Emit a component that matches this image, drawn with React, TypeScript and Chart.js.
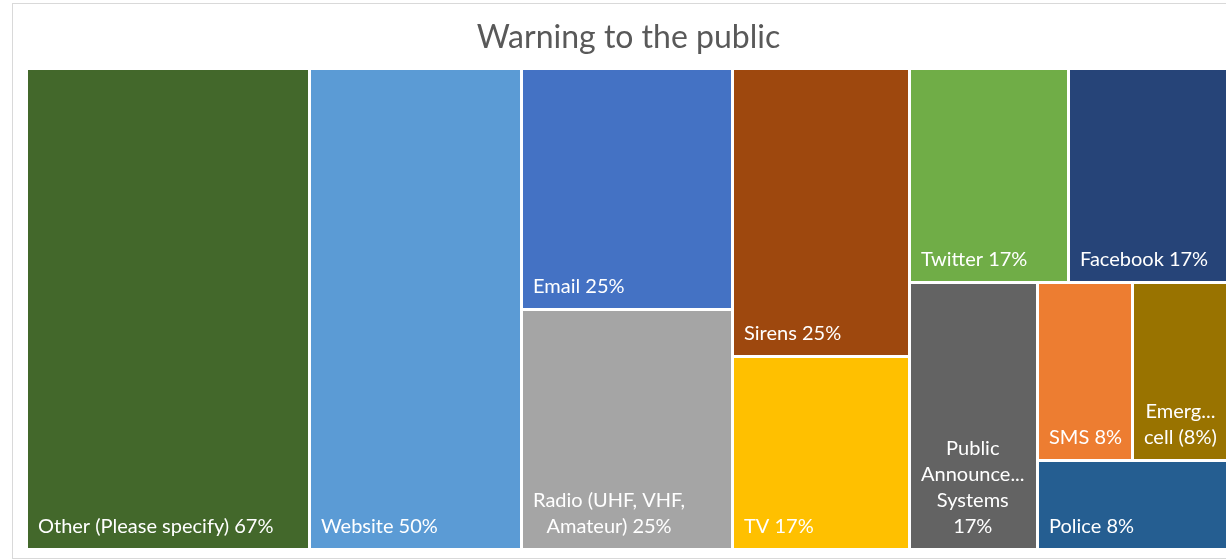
import React, { useEffect, useRef } from "react";
import { Chart, registerables } from "chart.js";

Chart.register(...registerables);

// ---- data ----
const chartTitle = "Warning to the public";
const categories = [
  "Other (Please specify)",
  "Website",
  "Email",
  "Radio (UHF, VHF, Amateur)",
  "Sirens",
  "TV",
  "Twitter",
  "Facebook",
  "Public Announcement Systems",
  "SMS",
  "Emergency cell",
  "Police",
];
const values = [66.7, 50, 25, 25, 25, 16.7, 16.7, 16.7, 16.7, 8.3, 8.3, 8.3];
const valueLabels = ["67%", "50%", "25%", "25%", "25%", "17%", "17%", "17%", "17%", "8%", "(8%)", "8%"];
const colors = [
  "#43682B",
  "#5B9BD5",
  "#4472C4",
  "#A5A5A5",
  "#9E480E",
  "#FFC000",
  "#70AD47",
  "#264478",
  "#636363",
  "#ED7D31",
  "#997300",
  "#255E91",
];
// number of items placed in each successive strip of the treemap
const stripSizes = [1, 1, 2, 2, 2, 1, 2, 1];

const CANVAS_W = 1245;
const CANVAS_H = 559;
const GAP = 3;
const LABEL_FONT = "20px Lato";
const LINE_H = 26;

type R = { x0: number; y0: number; x1: number; y1: number; idx: number };

function treemapLayout(aspect: number): R[] {
  const rects: R[] = [];
  let x = 0,
    y = 0,
    w = aspect,
    h = 1;
  let remaining = values.reduce((a, b) => a + b, 0);
  let i = 0;
  for (const n of stripSizes) {
    const items = values.slice(i, i + n);
    const s = items.reduce((a, b) => a + b, 0);
    if (w >= h) {
      const cw = (w * s) / remaining;
      let cy = y;
      items.forEach((v, k) => {
        const ch = (h * v) / s;
        rects.push({ x0: x, y0: cy, x1: x + cw, y1: cy + ch, idx: i + k });
        cy += ch;
      });
      x += cw;
      w -= cw;
    } else {
      const rh = (h * s) / remaining;
      let cx = x;
      items.forEach((v, k) => {
        const cw = (w * v) / s;
        rects.push({ x0: cx, y0: y, x1: cx + cw, y1: y + rh, idx: i + k });
        cx += cw;
      });
      y += rh;
      h -= rh;
    }
    remaining -= s;
    i += n;
  }
  return rects;
}

function wrapLabel(ctx: CanvasRenderingContext2D, text: string, avail: number): string[] {
  const words = text.split(" ");
  const lines: string[] = [];
  let cur = "";
  const fit = (word: string) => {
    if (ctx.measureText(word).width <= avail) return word;
    let p = word;
    while (p.length > 1 && ctx.measureText(p + "...").width > avail) p = p.slice(0, -1);
    return p + "...";
  };
  for (const word of words) {
    const cand = cur ? cur + " " + word : word;
    if (ctx.measureText(cand).width <= avail) {
      cur = cand;
    } else {
      if (cur) lines.push(cur);
      const f = fit(word);
      if (f !== word) {
        lines.push(f);
        cur = "";
      } else cur = word;
    }
  }
  if (cur) lines.push(cur);
  return lines;
}

const treemapPlugin = {
  id: "treemapCells",
  beforeDraw(chart: any) {
    const ctx = chart.ctx as CanvasRenderingContext2D;
    ctx.save();
    ctx.strokeStyle = "#D9D9D9";
    ctx.lineWidth = 1;
    ctx.strokeRect(12.5, 3.5, 1300, 555);
    ctx.restore();
  },
  afterDatasetsDraw(chart: any) {
    const ctx = chart.ctx as CanvasRenderingContext2D;
    const area = chart.chartArea;
    const aspect = (area.right - area.left) / (area.bottom - area.top);
    const xs = chart.scales.x;
    const ys = chart.scales.y;
    const rects = treemapLayout(aspect);
    ctx.save();
    for (const r of rects) {
      const px0 = xs.getPixelForValue(r.x0 / aspect);
      const px1 = xs.getPixelForValue(r.x1 / aspect);
      const py0 = ys.getPixelForValue(r.y0);
      const py1 = ys.getPixelForValue(r.y1);
      const left = Math.round(px0);
      const top = Math.round(py0);
      const right = Math.round(px1) - GAP;
      const bottom = Math.round(py1) - GAP;
      ctx.fillStyle = colors[r.idx];
      ctx.fillRect(left, top, right - left, bottom - top);

      // label
      ctx.font = LABEL_FONT;
      ctx.fillStyle = "#FFFFFF";
      ctx.textBaseline = "alphabetic";
      ctx.textAlign = "center";
      const text = categories[r.idx] + " " + valueLabels[r.idx];
      const avail = right - left - 16;
      const lines = wrapLabel(ctx, text, avail);
      const blockW = Math.max(...lines.map((l) => ctx.measureText(l).width));
      const cx = left + 10 + blockW / 2;
      const lastBase = bottom - 15;
      lines.forEach((l, k) => {
        const yb = lastBase - (lines.length - 1 - k) * LINE_H;
        ctx.fillText(l, cx, yb);
      });
    }
    ctx.restore();
  },
};

export default function App() {
  const ref = useRef<HTMLCanvasElement | null>(null);
  useEffect(() => {
    if (!ref.current) return;
    const chart = new Chart(ref.current, {
      type: "scatter",
      data: { datasets: [{ label: "cells", data: [] }] },
      options: {
        animation: false,
        responsive: false,
        devicePixelRatio: 1,
        layout: { padding: { left: 28, right: CANVAS_W - 1229, top: 0, bottom: CANVAS_H - 551 } },
        scales: {
          x: { type: "linear", min: 0, max: 1, display: false },
          y: { type: "linear", min: 0, max: 1, reverse: true, display: false },
        },
        plugins: {
          legend: { display: false },
          tooltip: { enabled: false },
          title: {
            display: true,
            text: chartTitle,
            color: "#595959",
            font: { family: "Lato", size: 32, weight: "normal", lineHeight: 1.2 },
            padding: { top: 18, bottom: 13.6 },
          },
        },
      },
      plugins: [treemapPlugin],
    });
    return () => chart.destroy();
  }, []);
  return (
    <div style={{ position: "absolute", left: 0, top: 0, width: 1226, height: 559, overflow: "hidden", background: "#fff" }}>
      <canvas ref={ref} width={CANVAS_W} height={CANVAS_H} style={{ display: "block" }} />
    </div>
  );
}
